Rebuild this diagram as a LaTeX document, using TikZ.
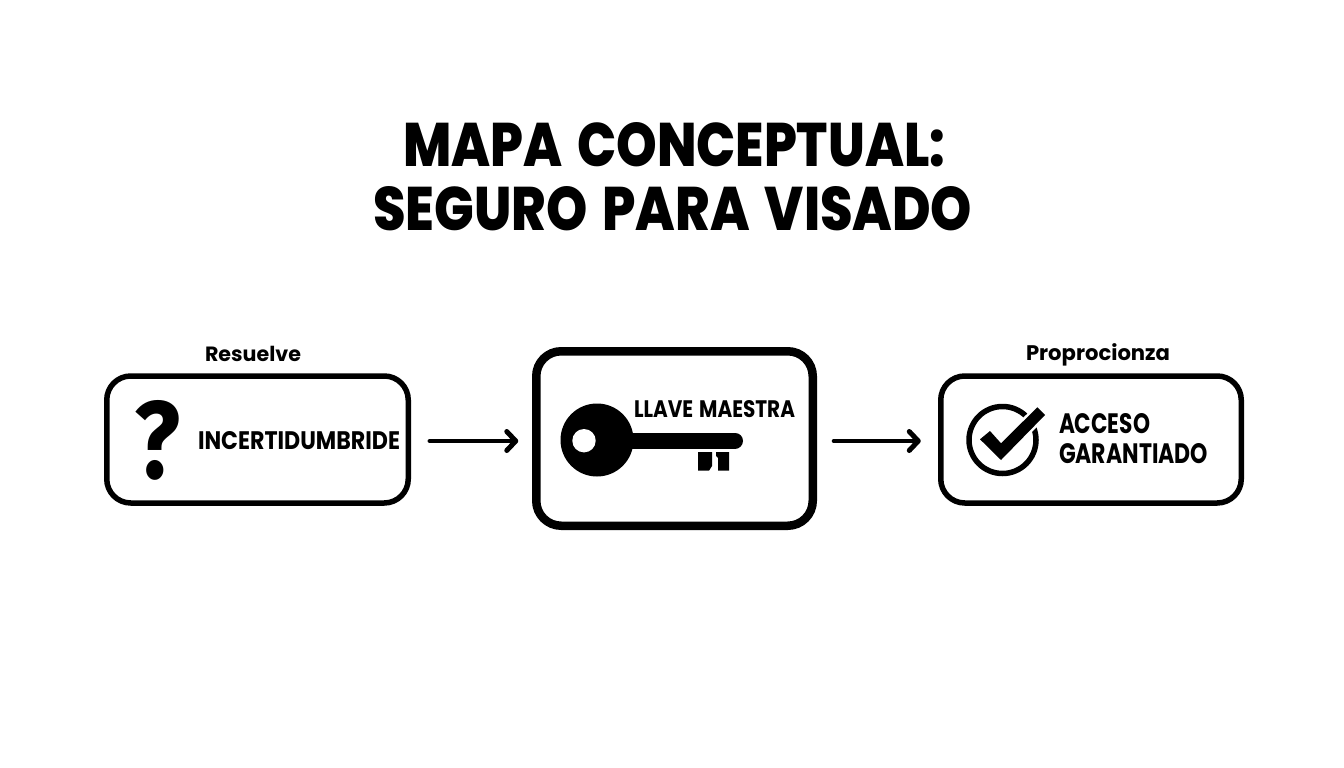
\documentclass[tikz,border=0pt]{standalone}
\usepackage{fontspec}
\usepackage{graphicx}
\setmainfont{Poppins}[BoldFont={Poppins Bold},WordSpace=1.4]
\newfontfamily\titlefont{Poppins ExtraBold}[WordSpace=1.5]
\newfontfamily\qfont{Fira Sans}[BoldFont={Fira Sans Bold}]
\usetikzlibrary{arrows.meta}
\newcommand{\fittext}[3]{\resizebox{#1pt}{#2pt}{\bfseries #3}}
\tikzset{
  x=1pt,y=-1pt,
  txt/.style={inner sep=0pt,outer sep=0pt,anchor=base west,text=black},
  thinbox/.style={draw=black,line width=5.5pt,rounded corners=24pt,fill=white,inner sep=0pt,outer sep=0pt},
  thickbox/.style={draw=black,line width=8.5pt,rounded corners=25pt,fill=white,inner sep=0pt,outer sep=0pt},
  flow/.style={line width=4.5pt,line cap=round,draw=black,-{Straight Barb[length=9pt,width=19pt,line width=5pt,round]}},
}
\begin{document}
\begin{tikzpicture}
\useasboundingbox (0,0) rectangle (1344,768);
\fill[white] (0,0) rectangle (1344,768);
% title
\node[txt] (t1) at (403,166) {\resizebox{542pt}{44pt}{\titlefont MAPA CONCEPTUAL:}};
\node[txt] (t2) at (373,230) {\resizebox{599pt}{44pt}{\titlefont SEGURO PARA VISADO}};
% boxes
\node[thinbox,minimum width=301.5pt,minimum height=127pt] (box1) at (257.5,439.5) {};
\node[thickbox,minimum width=276.5pt,minimum height=174.5pt] (box2) at (674.5,438.5) {};
\node[thinbox,minimum width=300.5pt,minimum height=127pt] (box3) at (1091,439.5) {};
% labels above
\node[txt] (l1) at (205,361) {\resizebox{96pt}{!}{\bfseries Resuelve}};
\node[txt] (l3) at (1026,360) {\resizebox{144pt}{!}{\bfseries Proprocionza}};
% box 1
\node[txt] (q) at (134,478) {\resizebox{46pt}{78pt}{\qfont\bfseries ?}};
\node[txt] (i1) at (198,449) {\fittext{202}{18}{INCERTIDUMBRIDE}};
% box 2
\node[txt] (i2) at (634,417) {\fittext{161}{17}{LLAVE MAESTRA}};
\fill[black] (597,440) circle (36.5);
\draw[black,line width=16pt,line cap=round] (625,440.7) -- (735,440.7);
\fill[white] (584,440.7) circle (11.7);
\fill[black] (698,452) -- (712,452) -- (712,466) -- (709,470.7) -- (698,470.7) -- cycle;
\fill[black] (716,452) -- (729,452) -- (729,470.7) -- (718,470.7) -- (718,458) -- (716,456) -- cycle;
% box 3
\draw[black,line width=5.5pt] (1002.5,440) circle (33.5);
\filldraw[fill=black,draw=white,line width=5pt,line join=miter] (980,439.3) -- (990,431) -- (1001,443.3) -- (1037.3,407.3) -- (1045,415) -- (1001,460) -- cycle;
\fill[black] (980,439.3) -- (990,431) -- (1001,443.3) -- (1037.3,407.3) -- (1045,415) -- (1001,460) -- cycle;
\node[txt] (a1) at (1059,433) {\fittext{91}{20}{ACCESO}};
\node[txt] (a2) at (1059,463) {\fittext{149}{20}{GARANTIADO}};
% connectors
\draw[flow,shorten <=21.5pt,shorten >=18pt] ([yshift=-1.5pt]box1.east) -- ([yshift=-2.5pt]box2.west);
\draw[flow,shorten <=21.2pt,shorten >=20pt] ([yshift=-2.5pt]box2.east) -- ([yshift=-1.5pt]box3.west);
\end{tikzpicture}
\end{document}
